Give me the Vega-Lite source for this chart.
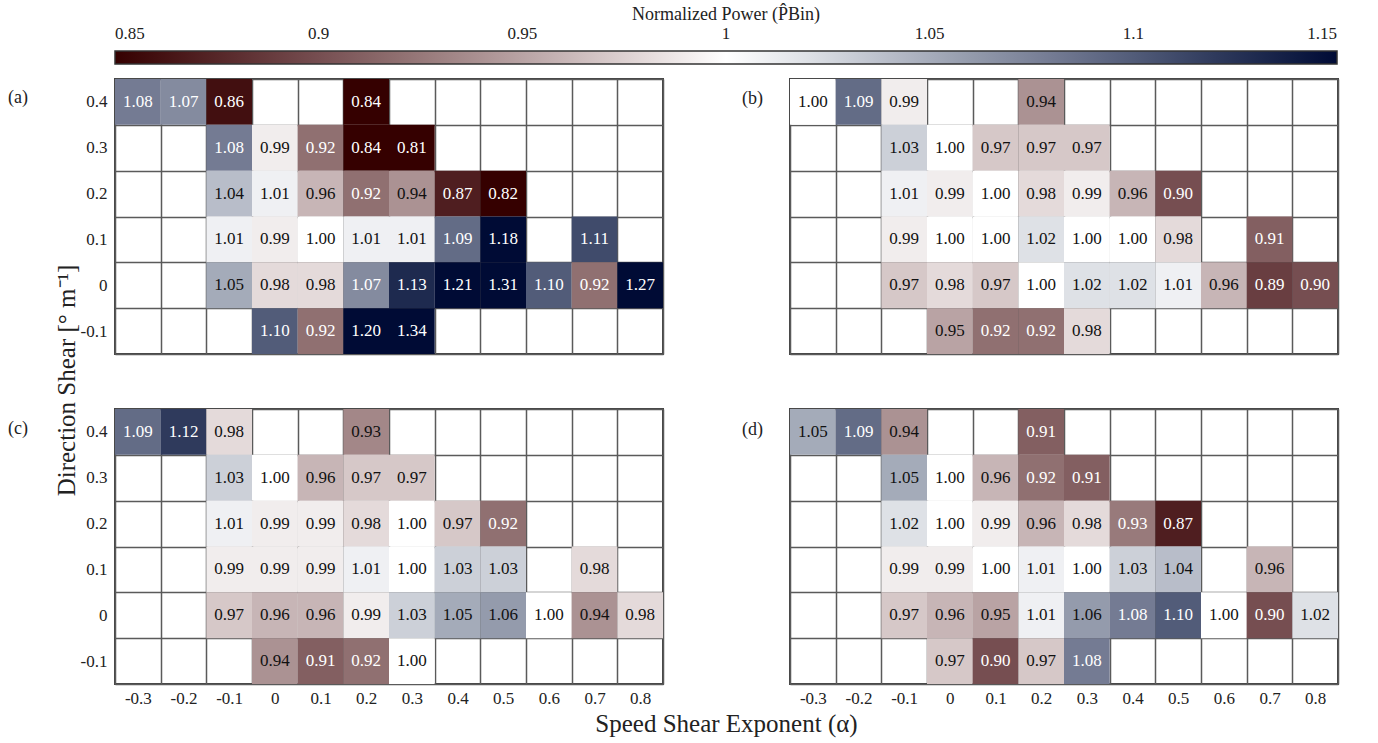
{
  "$schema": "https://vega.github.io/schema/vega-lite/v6.json",
  "padding": {"left": 7, "top": 6, "right": 5, "bottom": 5},
  "background": "white",
  "config": {
    "font": "Liberation Serif",
    "view": {"stroke": "#444", "strokeWidth": 2},
    "axis": {
      "domain": false, "ticks": false, "grid": true, "tickBand": "extent",
      "gridColor": "#5a5a5a", "gridWidth": 1.5, "gridOpacity": 1,
      "labelFontSize": 17, "labelColor": "#222", "labelFont": "Liberation Serif",
      "labelAngle": 0, "zindex": 1,
      "titleFont": "Liberation Serif", "titleFontWeight": "normal", "titleColor": "#222", "titleFontSize": 25
    },
    "title": {"font": "Liberation Serif", "fontWeight": "normal", "fontSize": 18, "color": "#222"}
  },
  "data": {"values": [
    {"p":"a","a":-0.3,"s":0.4,"v":1.08},{"p":"a","a":-0.2,"s":0.4,"v":1.07},{"p":"a","a":-0.1,"s":0.4,"v":0.86},{"p":"a","a":0.2,"s":0.4,"v":0.84},
    {"p":"a","a":-0.1,"s":0.3,"v":1.08},{"p":"a","a":0,"s":0.3,"v":0.99},{"p":"a","a":0.1,"s":0.3,"v":0.92},{"p":"a","a":0.2,"s":0.3,"v":0.84},{"p":"a","a":0.3,"s":0.3,"v":0.81},
    {"p":"a","a":-0.1,"s":0.2,"v":1.04},{"p":"a","a":0,"s":0.2,"v":1.01},{"p":"a","a":0.1,"s":0.2,"v":0.96},{"p":"a","a":0.2,"s":0.2,"v":0.92},{"p":"a","a":0.3,"s":0.2,"v":0.94},{"p":"a","a":0.4,"s":0.2,"v":0.87},{"p":"a","a":0.5,"s":0.2,"v":0.82},
    {"p":"a","a":-0.1,"s":0.1,"v":1.01},{"p":"a","a":0,"s":0.1,"v":0.99},{"p":"a","a":0.1,"s":0.1,"v":1.00},{"p":"a","a":0.2,"s":0.1,"v":1.01},{"p":"a","a":0.3,"s":0.1,"v":1.01},{"p":"a","a":0.4,"s":0.1,"v":1.09},{"p":"a","a":0.5,"s":0.1,"v":1.18},{"p":"a","a":0.7,"s":0.1,"v":1.11},
    {"p":"a","a":-0.1,"s":0,"v":1.05},{"p":"a","a":0,"s":0,"v":0.98},{"p":"a","a":0.1,"s":0,"v":0.98},{"p":"a","a":0.2,"s":0,"v":1.07},{"p":"a","a":0.3,"s":0,"v":1.13},{"p":"a","a":0.4,"s":0,"v":1.21},{"p":"a","a":0.5,"s":0,"v":1.31},{"p":"a","a":0.6,"s":0,"v":1.10},{"p":"a","a":0.7,"s":0,"v":0.92},{"p":"a","a":0.8,"s":0,"v":1.27},
    {"p":"a","a":0,"s":-0.1,"v":1.10},{"p":"a","a":0.1,"s":-0.1,"v":0.92},{"p":"a","a":0.2,"s":-0.1,"v":1.20},{"p":"a","a":0.3,"s":-0.1,"v":1.34},

    {"p":"b","a":-0.3,"s":0.4,"v":1.00},{"p":"b","a":-0.2,"s":0.4,"v":1.09},{"p":"b","a":-0.1,"s":0.4,"v":0.99},{"p":"b","a":0.2,"s":0.4,"v":0.94},
    {"p":"b","a":-0.1,"s":0.3,"v":1.03},{"p":"b","a":0,"s":0.3,"v":1.00},{"p":"b","a":0.1,"s":0.3,"v":0.97},{"p":"b","a":0.2,"s":0.3,"v":0.97},{"p":"b","a":0.3,"s":0.3,"v":0.97},
    {"p":"b","a":-0.1,"s":0.2,"v":1.01},{"p":"b","a":0,"s":0.2,"v":0.99},{"p":"b","a":0.1,"s":0.2,"v":1.00},{"p":"b","a":0.2,"s":0.2,"v":0.98},{"p":"b","a":0.3,"s":0.2,"v":0.99},{"p":"b","a":0.4,"s":0.2,"v":0.96},{"p":"b","a":0.5,"s":0.2,"v":0.90},
    {"p":"b","a":-0.1,"s":0.1,"v":0.99},{"p":"b","a":0,"s":0.1,"v":1.00},{"p":"b","a":0.1,"s":0.1,"v":1.00},{"p":"b","a":0.2,"s":0.1,"v":1.02},{"p":"b","a":0.3,"s":0.1,"v":1.00},{"p":"b","a":0.4,"s":0.1,"v":1.00},{"p":"b","a":0.5,"s":0.1,"v":0.98},{"p":"b","a":0.7,"s":0.1,"v":0.91},
    {"p":"b","a":-0.1,"s":0,"v":0.97},{"p":"b","a":0,"s":0,"v":0.98},{"p":"b","a":0.1,"s":0,"v":0.97},{"p":"b","a":0.2,"s":0,"v":1.00},{"p":"b","a":0.3,"s":0,"v":1.02},{"p":"b","a":0.4,"s":0,"v":1.02},{"p":"b","a":0.5,"s":0,"v":1.01},{"p":"b","a":0.6,"s":0,"v":0.96},{"p":"b","a":0.7,"s":0,"v":0.89},{"p":"b","a":0.8,"s":0,"v":0.90},
    {"p":"b","a":0,"s":-0.1,"v":0.95},{"p":"b","a":0.1,"s":-0.1,"v":0.92},{"p":"b","a":0.2,"s":-0.1,"v":0.92},{"p":"b","a":0.3,"s":-0.1,"v":0.98},

    {"p":"c","a":-0.3,"s":0.4,"v":1.09},{"p":"c","a":-0.2,"s":0.4,"v":1.12},{"p":"c","a":-0.1,"s":0.4,"v":0.98},{"p":"c","a":0.2,"s":0.4,"v":0.934},
    {"p":"c","a":-0.1,"s":0.3,"v":1.03},{"p":"c","a":0,"s":0.3,"v":1.00},{"p":"c","a":0.1,"s":0.3,"v":0.96},{"p":"c","a":0.2,"s":0.3,"v":0.97},{"p":"c","a":0.3,"s":0.3,"v":0.97},
    {"p":"c","a":-0.1,"s":0.2,"v":1.01},{"p":"c","a":0,"s":0.2,"v":0.99},{"p":"c","a":0.1,"s":0.2,"v":0.99},{"p":"c","a":0.2,"s":0.2,"v":0.98},{"p":"c","a":0.3,"s":0.2,"v":1.00},{"p":"c","a":0.4,"s":0.2,"v":0.97},{"p":"c","a":0.5,"s":0.2,"v":0.92},
    {"p":"c","a":-0.1,"s":0.1,"v":0.99},{"p":"c","a":0,"s":0.1,"v":0.99},{"p":"c","a":0.1,"s":0.1,"v":0.99},{"p":"c","a":0.2,"s":0.1,"v":1.01},{"p":"c","a":0.3,"s":0.1,"v":1.00},{"p":"c","a":0.4,"s":0.1,"v":1.03},{"p":"c","a":0.5,"s":0.1,"v":1.03},{"p":"c","a":0.7,"s":0.1,"v":0.98},
    {"p":"c","a":-0.1,"s":0,"v":0.97},{"p":"c","a":0,"s":0,"v":0.96},{"p":"c","a":0.1,"s":0,"v":0.96},{"p":"c","a":0.2,"s":0,"v":0.99},{"p":"c","a":0.3,"s":0,"v":1.03},{"p":"c","a":0.4,"s":0,"v":1.05},{"p":"c","a":0.5,"s":0,"v":1.06},{"p":"c","a":0.6,"s":0,"v":1.00},{"p":"c","a":0.7,"s":0,"v":0.94},{"p":"c","a":0.8,"s":0,"v":0.98},
    {"p":"c","a":0,"s":-0.1,"v":0.94},{"p":"c","a":0.1,"s":-0.1,"v":0.91},{"p":"c","a":0.2,"s":-0.1,"v":0.92},{"p":"c","a":0.3,"s":-0.1,"v":1.00},

    {"p":"d","a":-0.3,"s":0.4,"v":1.05},{"p":"d","a":-0.2,"s":0.4,"v":1.09},{"p":"d","a":-0.1,"s":0.4,"v":0.94},{"p":"d","a":0.2,"s":0.4,"v":0.91},
    {"p":"d","a":-0.1,"s":0.3,"v":1.05},{"p":"d","a":0,"s":0.3,"v":1.00},{"p":"d","a":0.1,"s":0.3,"v":0.96},{"p":"d","a":0.2,"s":0.3,"v":0.92},{"p":"d","a":0.3,"s":0.3,"v":0.91},
    {"p":"d","a":-0.1,"s":0.2,"v":1.02},{"p":"d","a":0,"s":0.2,"v":1.00},{"p":"d","a":0.1,"s":0.2,"v":0.99},{"p":"d","a":0.2,"s":0.2,"v":0.96},{"p":"d","a":0.3,"s":0.2,"v":0.98},{"p":"d","a":0.4,"s":0.2,"v":0.926},{"p":"d","a":0.5,"s":0.2,"v":0.87},
    {"p":"d","a":-0.1,"s":0.1,"v":0.99},{"p":"d","a":0,"s":0.1,"v":0.99},{"p":"d","a":0.1,"s":0.1,"v":1.00},{"p":"d","a":0.2,"s":0.1,"v":1.01},{"p":"d","a":0.3,"s":0.1,"v":1.00},{"p":"d","a":0.4,"s":0.1,"v":1.03},{"p":"d","a":0.5,"s":0.1,"v":1.04},{"p":"d","a":0.7,"s":0.1,"v":0.96},
    {"p":"d","a":-0.1,"s":0,"v":0.97},{"p":"d","a":0,"s":0,"v":0.96},{"p":"d","a":0.1,"s":0,"v":0.95},{"p":"d","a":0.2,"s":0,"v":1.01},{"p":"d","a":0.3,"s":0,"v":1.06},{"p":"d","a":0.4,"s":0,"v":1.08},{"p":"d","a":0.5,"s":0,"v":1.10},{"p":"d","a":0.6,"s":0,"v":1.00},{"p":"d","a":0.7,"s":0,"v":0.90},{"p":"d","a":0.8,"s":0,"v":1.02},
    {"p":"d","a":0,"s":-0.1,"v":0.97},{"p":"d","a":0.1,"s":-0.1,"v":0.90},{"p":"d","a":0.2,"s":-0.1,"v":0.97},{"p":"d","a":0.3,"s":-0.1,"v":1.08}
  ]},
  "columns": 2,
  "spacing": {"row": 55, "column": 127},
  "bounds": "flush",
  "concat": [
    {
      "transform": [{"filter": "datum.p === 'a'"}],
      "width": 548, "height": 275,
      "title": {"text": "(a)", "anchor": "start", "frame": "group", "dx": -107, "dy": 46, "baseline": "middle", "offset": 0},
      "encoding": {
        "x": {"field": "a", "type": "ordinal", "scale": {"domain": [-0.3,-0.2,-0.1,0,0.1,0.2,0.3,0.4,0.5,0.6,0.7,0.8], "paddingInner": 0, "paddingOuter": 0}, "axis": {"labels": false, "title": null}},
        "y": {"field": "s", "type": "ordinal", "scale": {"domain": [0.4,0.3,0.2,0.1,0,-0.1], "paddingInner": 0, "paddingOuter": 0}, "axis": {"labelPadding": 8, "title": "Direction Shear [° m⁻¹]", "titleX": -49, "titleY": 301, "titleBaseline": "middle", "titleAlign": "center", "titleAngle": -90}}
      },
      "layer": [
        {"mark": {"type": "rect"}, "encoding": {"color": {"field": "v", "type": "quantitative",
          "scale": {"domain": [0.85,0.875,0.9,0.925,0.95,0.975,1,1.025,1.05,1.075,1.1,1.125,1.15], "range": ["#350000","#552628","#764e51","#977879","#b9a3a4","#ddd1d1","#ffffff","#d6d9e0","#a4abb9","#7c8399","#525c79","#263255","#000b35"], "clamp": true, "interpolate": "rgb"},
          "legend": {"orient": "none", "legendX": 0, "legendY": -73, "direction": "horizontal", "gradientLength": 1222, "gradientThickness": 13, "values": [0.85,0.9,0.95,1,1.05,1.1,1.15], "format": "~g", "labelOffset": -38, "labelAlign": "center", "labelOverlap": false, "labelFontSize": 17, "labelColor": "#222", "labelFont": "Liberation Serif", "title": "Normalized Power (P̂Bin)", "titleFont": "Liberation Serif", "titleFontSize": 18, "titleFontWeight": "normal", "titleColor": "#222", "titleAnchor": "middle", "titlePadding": 27, "titleLimit": 1000, "gradientStrokeColor": "#333", "gradientStrokeWidth": 1.5, "padding": 0}}}},
        {"mark": {"type": "text", "fontSize": 17, "font": "Liberation Serif"}, "encoding": {"text": {"field": "v", "type": "quantitative", "format": ".2f"}, "color": {"condition": {"test": "datum.v < 0.93 || datum.v > 1.065", "value": "#ffffff"}, "value": "#111111"}}}
      ]
    },
    {
      "transform": [{"filter": "datum.p === 'b'"}],
      "width": 548, "height": 275,
      "title": {"text": "(b)", "anchor": "start", "frame": "group", "dx": -48, "dy": 38, "baseline": "middle", "offset": 0},
      "encoding": {
        "x": {"field": "a", "type": "ordinal", "scale": {"domain": [-0.3,-0.2,-0.1,0,0.1,0.2,0.3,0.4,0.5,0.6,0.7,0.8], "paddingInner": 0, "paddingOuter": 0}, "axis": {"labels": false, "title": null}},
        "y": {"field": "s", "type": "ordinal", "scale": {"domain": [0.4,0.3,0.2,0.1,0,-0.1], "paddingInner": 0, "paddingOuter": 0}, "axis": {"labels": false, "title": null}}
      },
      "layer": [
        {"mark": {"type": "rect"}, "encoding": {"color": {"field": "v", "type": "quantitative",
          "scale": {"domain": [0.85,0.875,0.9,0.925,0.95,0.975,1,1.025,1.05,1.075,1.1,1.125,1.15], "range": ["#350000","#552628","#764e51","#977879","#b9a3a4","#ddd1d1","#ffffff","#d6d9e0","#a4abb9","#7c8399","#525c79","#263255","#000b35"], "clamp": true, "interpolate": "rgb"},
          "legend": {"orient": "none", "legendX": 0, "legendY": -73, "direction": "horizontal", "gradientLength": 1222, "gradientThickness": 13, "values": [0.85,0.9,0.95,1,1.05,1.1,1.15], "format": "~g", "labelOffset": -38, "labelAlign": "center", "labelOverlap": false, "labelFontSize": 17, "labelColor": "#222", "labelFont": "Liberation Serif", "title": "Normalized Power (P̂Bin)", "titleFont": "Liberation Serif", "titleFontSize": 18, "titleFontWeight": "normal", "titleColor": "#222", "titleAnchor": "middle", "titlePadding": 27, "titleLimit": 1000, "gradientStrokeColor": "#333", "gradientStrokeWidth": 1.5, "padding": 0}}}},
        {"mark": {"type": "text", "fontSize": 17, "font": "Liberation Serif"}, "encoding": {"text": {"field": "v", "type": "quantitative", "format": ".2f"}, "color": {"condition": {"test": "datum.v < 0.93 || datum.v > 1.065", "value": "#ffffff"}, "value": "#111111"}}}
      ]
    },
    {
      "transform": [{"filter": "datum.p === 'c'"}],
      "width": 548, "height": 275,
      "title": {"text": "(c)", "anchor": "start", "frame": "group", "dx": -107, "dy": 47, "baseline": "middle", "offset": 0},
      "encoding": {
        "x": {"field": "a", "type": "ordinal", "scale": {"domain": [-0.3,-0.2,-0.1,0,0.1,0.2,0.3,0.4,0.5,0.6,0.7,0.8], "paddingInner": 0, "paddingOuter": 0}, "axis": {"labelPadding": 6, "title": "Speed Shear Exponent (α)", "titleX": 611, "titleY": 39, "titleBaseline": "middle", "titleAlign": "center"}},
        "y": {"field": "s", "type": "ordinal", "scale": {"domain": [0.4,0.3,0.2,0.1,0,-0.1], "paddingInner": 0, "paddingOuter": 0}, "axis": {"labelPadding": 8, "title": null}}
      },
      "layer": [
        {"mark": {"type": "rect"}, "encoding": {"color": {"field": "v", "type": "quantitative",
          "scale": {"domain": [0.85,0.875,0.9,0.925,0.95,0.975,1,1.025,1.05,1.075,1.1,1.125,1.15], "range": ["#350000","#552628","#764e51","#977879","#b9a3a4","#ddd1d1","#ffffff","#d6d9e0","#a4abb9","#7c8399","#525c79","#263255","#000b35"], "clamp": true, "interpolate": "rgb"},
          "legend": {"orient": "none", "legendX": 0, "legendY": -73, "direction": "horizontal", "gradientLength": 1222, "gradientThickness": 13, "values": [0.85,0.9,0.95,1,1.05,1.1,1.15], "format": "~g", "labelOffset": -38, "labelAlign": "center", "labelOverlap": false, "labelFontSize": 17, "labelColor": "#222", "labelFont": "Liberation Serif", "title": "Normalized Power (P̂Bin)", "titleFont": "Liberation Serif", "titleFontSize": 18, "titleFontWeight": "normal", "titleColor": "#222", "titleAnchor": "middle", "titlePadding": 27, "titleLimit": 1000, "gradientStrokeColor": "#333", "gradientStrokeWidth": 1.5, "padding": 0}}}},
        {"mark": {"type": "text", "fontSize": 17, "font": "Liberation Serif"}, "encoding": {"text": {"field": "v", "type": "quantitative", "format": ".2f"}, "color": {"condition": {"test": "datum.v < 0.93 || datum.v > 1.065", "value": "#ffffff"}, "value": "#111111"}}}
      ]
    },
    {
      "transform": [{"filter": "datum.p === 'd'"}],
      "width": 548, "height": 275,
      "title": {"text": "(d)", "anchor": "start", "frame": "group", "dx": -48, "dy": 39, "baseline": "middle", "offset": 0},
      "encoding": {
        "x": {"field": "a", "type": "ordinal", "scale": {"domain": [-0.3,-0.2,-0.1,0,0.1,0.2,0.3,0.4,0.5,0.6,0.7,0.8], "paddingInner": 0, "paddingOuter": 0}, "axis": {"labelPadding": 6, "title": null}},
        "y": {"field": "s", "type": "ordinal", "scale": {"domain": [0.4,0.3,0.2,0.1,0,-0.1], "paddingInner": 0, "paddingOuter": 0}, "axis": {"labels": false, "title": null}}
      },
      "layer": [
        {"mark": {"type": "rect"}, "encoding": {"color": {"field": "v", "type": "quantitative",
          "scale": {"domain": [0.85,0.875,0.9,0.925,0.95,0.975,1,1.025,1.05,1.075,1.1,1.125,1.15], "range": ["#350000","#552628","#764e51","#977879","#b9a3a4","#ddd1d1","#ffffff","#d6d9e0","#a4abb9","#7c8399","#525c79","#263255","#000b35"], "clamp": true, "interpolate": "rgb"},
          "legend": {"orient": "none", "legendX": 0, "legendY": -73, "direction": "horizontal", "gradientLength": 1222, "gradientThickness": 13, "values": [0.85,0.9,0.95,1,1.05,1.1,1.15], "format": "~g", "labelOffset": -38, "labelAlign": "center", "labelOverlap": false, "labelFontSize": 17, "labelColor": "#222", "labelFont": "Liberation Serif", "title": "Normalized Power (P̂Bin)", "titleFont": "Liberation Serif", "titleFontSize": 18, "titleFontWeight": "normal", "titleColor": "#222", "titleAnchor": "middle", "titlePadding": 27, "titleLimit": 1000, "gradientStrokeColor": "#333", "gradientStrokeWidth": 1.5, "padding": 0}}}},
        {"mark": {"type": "text", "fontSize": 17, "font": "Liberation Serif"}, "encoding": {"text": {"field": "v", "type": "quantitative", "format": ".2f"}, "color": {"condition": {"test": "datum.v < 0.93 || datum.v > 1.065", "value": "#ffffff"}, "value": "#111111"}}}
      ]
    }
  ]
}
